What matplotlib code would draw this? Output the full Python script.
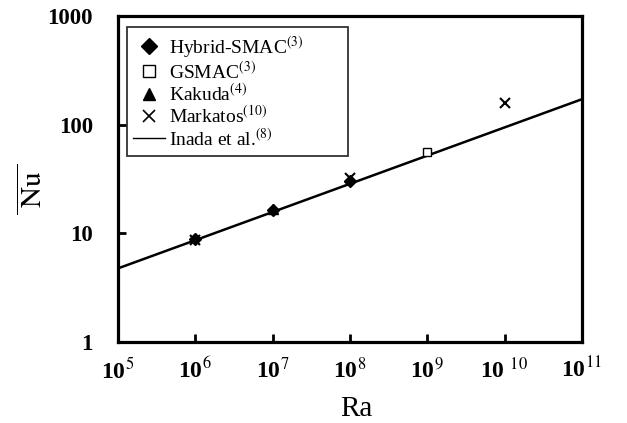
import matplotlib
matplotlib.use("Agg")
import matplotlib.pyplot as plt
from matplotlib.lines import Line2D

plt.rcParams['font.family'] = ['Liberation Serif', 'DejaVu Serif']
plt.rcParams['mathtext.fontset'] = 'stix'

# Data
hybrid_ra = [1e6, 1e7, 1e8]
hybrid_nu = [8.8, 16.5, 30.5]
gsmac_ra = [1e9]
gsmac_nu = [56.5]
kakuda_ra = [1e7]
kakuda_nu = [16.8]
markatos_ra = [1e6, 1e8, 1e10]
markatos_nu = [8.75, 32.3, 157]
inada_ra = [1e5, 1e11]
inada_nu = [4.75, 171]

xtick_vals = [1e5, 1e6, 1e7, 1e8, 1e9, 1e10, 1e11]
xtick_labels = ['10$^{5}$', '10$^{6}$', '10$^{7}$', '10$^{8}$', '10$^{9}$', '10 $^{10}$', '10$^{11}$']
ytick_vals = [1, 10, 100, 1000]
ytick_labels = ['1', '10', '100', '1000']

fig = plt.figure(figsize=(6.27, 4.23), dpi=100)
ax = fig.add_axes([0.188, 0.1915, 0.74, 0.771])
ax.set_xscale('log')
ax.set_yscale('log')
ax.set_xlim(1e5, 1e11)
ax.set_ylim(1, 1000)

ax.plot(inada_ra, inada_nu, color='black', lw=1.8, zorder=2)
ax.plot(hybrid_ra, hybrid_nu, linestyle='none', marker='D', ms=6, color='black', zorder=3)
ax.plot(gsmac_ra, gsmac_nu, linestyle='none', marker='s', ms=6, mfc='white', mec='black', mew=1, zorder=3)
ax.plot(kakuda_ra, kakuda_nu, linestyle='none', marker='^', ms=7, color='black', zorder=3)
ax.plot(markatos_ra, markatos_nu, linestyle='none', marker='x', ms=7, mew=1.5, color='black', zorder=4)

ax.set_xticks(xtick_vals)
ax.set_xticklabels(xtick_labels, fontsize=17, fontweight='bold')
ax.set_yticks(ytick_vals)
ax.set_yticklabels(ytick_labels, fontsize=16.5, fontweight='bold')
ax.minorticks_off()
ax.tick_params(axis='x', direction='in', length=6, width=2, pad=11)
ax.tick_params(axis='y', direction='in', length=6, width=2, pad=18)
for s in ax.spines.values():
    s.set_linewidth(2.3)

ax.set_xlabel('Ra', fontsize=21, va='center')
ax.xaxis.set_label_coords(0.515, -0.205)
ax.set_ylabel(r'$\overline{\ \mathrm{Nu}\ }$', fontsize=21, va='center')
ax.yaxis.set_label_coords(-0.182, 0.47)

handles = [
    Line2D([], [], linestyle='none', marker='D', ms=8, color='black'),
    Line2D([], [], linestyle='none', marker='s', ms=8, mfc='white', mec='black', mew=1),
    Line2D([], [], linestyle='none', marker='^', ms=9, color='black'),
    Line2D([], [], linestyle='none', marker='x', ms=9, mew=1.2, color='black'),
    Line2D([], [], color='black', lw=1),
]
labels = ['Hybrid-SMAC$^{(3)}$', 'GSMAC$^{(3)}$', 'Kakuda$^{(4)}$', 'Markatos$^{(10)}$', 'Inada et al.$^{(8)}$']
leg = ax.legend(handles, labels, loc='upper left', bbox_to_anchor=(0.019, 0.966, 0.476, 0.0),
                mode='expand',
                fontsize=14, frameon=True, fancybox=False, edgecolor='black',
                handlelength=1.6, handletextpad=0.25, labelspacing=0.02, borderpad=0.35,
                borderaxespad=0)
leg.get_frame().set_linewidth(1.3)

fig.savefig('out.png', dpi=100)
